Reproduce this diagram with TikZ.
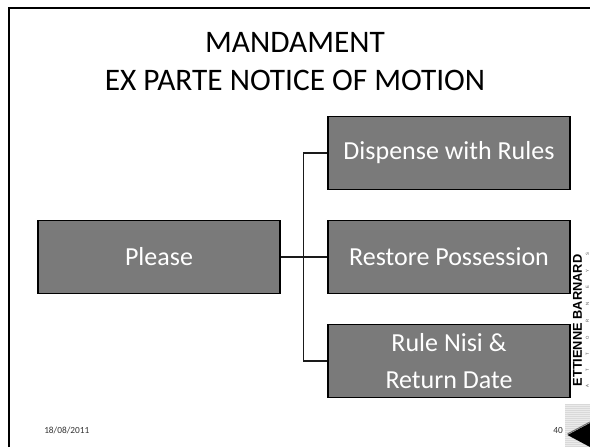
\documentclass[tikz,border=0pt]{standalone}
\usepackage{fontspec}
\setmainfont{Carlito}
\newfontfamily\logofont{Liberation Sans}
\definecolor{boxgrey}{HTML}{7A7A7A}
\definecolor{lineblack}{HTML}{1A1A1A}
\tikzset{
  x=0.75pt,y=-0.75pt,
  itembox/.style={draw=black,line width=0.9pt,fill=boxgrey,text=white,minimum width=181.5pt,minimum height=55pt,inner sep=0pt,align=center,font=\fontsize{19.5}{27.8}\selectfont,anchor=center},
  link/.style={draw=lineblack,line width=0.9pt},
  titletext/.style={font=\fontsize{23.5}{28.5}\selectfont,align=center,text=black,inner sep=0pt},
  foot/.style={font=\fontsize{7}{8}\selectfont,text=black!80,inner sep=0pt},
}
\begin{document}
\begin{tikzpicture}
\useasboundingbox (0,0) rectangle (590,447);
\fill[white] (0,0) rectangle (590,447);
\draw[black,line width=1.9pt] (9,447) -- (9,8) -- (590,8);
\node[titletext] (title) at (295,62) {MANDAMENT\\EX PARTE NOTICE OF MOTION};
\node[itembox] (please) at (159,257) {Please};
\node[itembox] (rules) at (449,153) {Dispense with Rules};
\node[itembox] (poss) at (449,257) {Restore Possession};
\node[itembox] (nisi) at (449,361) {Rule Nisi \&\\Return Date};
\coordinate (junction) at (303.5,257);
\draw[link] (please.east) -- (poss.west);
\draw[link] (rules.west) -- (rules.west -| junction) -- (nisi.west -| junction) -- (nisi.west);
\node[foot,anchor=west] (date) at (44,430) {18/08/2011};
\node[foot,anchor=east] (page) at (563,430) {40};
\node[rotate=90,inner sep=0pt,anchor=center,font=\logofont\bfseries\fontsize{9.6}{10}\selectfont] (logo) at (577.5,320.5) {ETTIENNE BARNARD};
\node[rotate=90,inner sep=0pt,anchor=center,font=\logofont\fontsize{3.2}{4}\selectfont,text=black!70] (attys) at (587.5,320.5) {A\hskip 10.2pt T\hskip 10.2pt T\hskip 10.2pt O\hskip 10.2pt R\hskip 10.2pt N\hskip 10.2pt E\hskip 10.2pt Y\hskip 10.2pt S};
\fill[black!15] (565,404) rectangle (590,447);
\foreach \yy in {405.5,407.5,...,446} \draw[black!8,line width=0.4pt] (565,\yy) -- (590,\yy);
\fill[black] (567.5,435) -- (590,423) -- (590,447) -- cycle;
\draw[black!55,line width=0.8pt] (567.5,434) -- (590,422);
\end{tikzpicture}
\end{document}
